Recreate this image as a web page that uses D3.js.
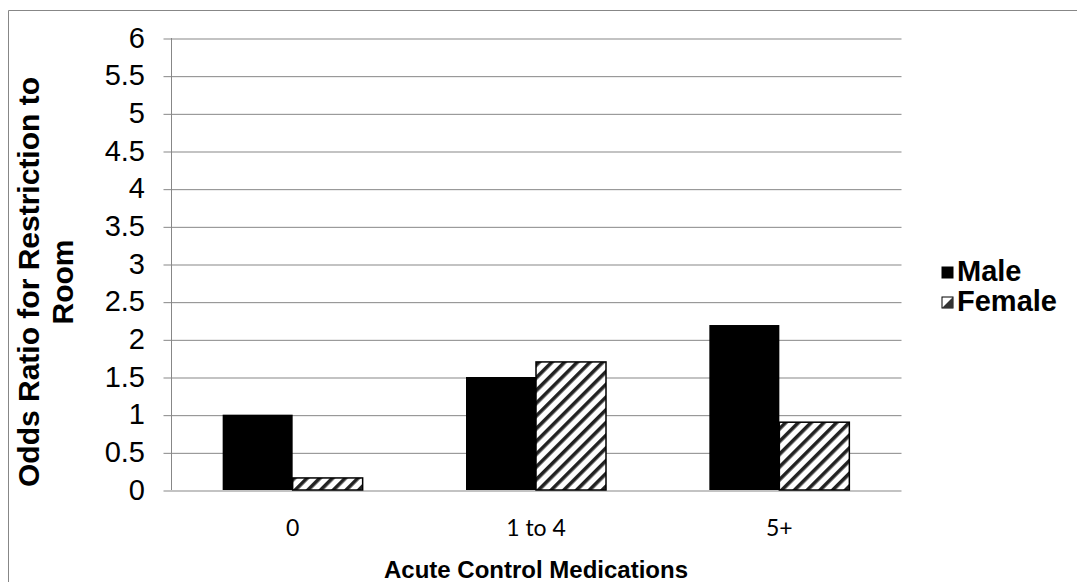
<!DOCTYPE html>
<html>
<head>
<meta charset="utf-8">
<script src="https://d3js.org/d3.v7.min.js"></script>
<style>
  body { margin: 0; background: white; }
  text { font-family: "Liberation Sans", Arial, sans-serif; fill: black; }
</style>
</head>
<body>
<svg width="1077" height="582"></svg>
<script>
// chart values
var categories = ["0", "1 to 4", "5+"];
var seriesNames = ["Male", "Female"];
var maleValues = [1.0, 1.5, 2.19];
var femaleValues = [0.16, 1.7, 0.9];
var yTicks = [0, 0.5, 1, 1.5, 2, 2.5, 3, 3.5, 4, 4.5, 5, 5.5, 6];

var svg = d3.select("svg");
var gridColor = "#878787";

// hatch pattern for the female bars
var defs = svg.append("defs");
defs.append("pattern")
    .attr("id", "hatch")
    .attr("patternUnits", "userSpaceOnUse")
    .attr("width", 9)
    .attr("height", 9)
    .attr("patternTransform", "rotate(45)")
    .call(function(p) {
        p.append("rect").attr("width", 9).attr("height", 9).attr("fill", "white");
        p.append("rect").attr("width", 3.6).attr("height", 9).attr("fill", "#222");
    });

// outer frame (only top and left edges are inside the picture)
svg.append("path")
    .attr("d", "M8.5,582 L8.5,10.5 L1077,10.5")
    .attr("fill", "none")
    .attr("stroke", gridColor)
    .attr("stroke-width", 1);

//Set the scales
var xs = d3.scaleBand().domain(categories).range([171, 901])
    .paddingInner(0.4247).paddingOuter(0.2123);
var xsub = d3.scaleBand().domain(seriesNames).range([0, xs.bandwidth()]);
var ys = d3.scaleLinear().domain([0, 6]).range([490, 38]);

//Gridlines and the y axis with its ticks
var yAxis = svg.append("g")
    .attr("transform", "translate(171,0)")
    .call(d3.axisLeft(ys)
        .tickValues(yTicks)
        .tickSize(8)
        .tickPadding(18)
        .tickFormat(d3.format("~g")));
yAxis.select(".domain").attr("stroke", gridColor).attr("d", "M0.5," + ys(6) + "V" + ys(0));
yAxis.selectAll(".tick line").attr("stroke", gridColor).attr("x1", 730).attr("x2", -8)
    .attr("transform", "translate(0.5,0.5)");
yAxis.selectAll(".tick text")
    .style("font-size", "29px")
    .style("font-family", "'Liberation Sans', Arial, sans-serif")
    .attr("fill", "black");

//Category labels under the bars
var xAxis = svg.append("g")
    .attr("transform", "translate(0,490)")
    .call(d3.axisBottom(xs).tickSize(0).tickPadding(30));
xAxis.select(".domain").remove();
xAxis.selectAll(".tick text")
    .style("font-size", "23px")
    .style("font-family", "Lato, 'Open Sans', sans-serif")
    .attr("fill", "black");

//Bars
var rows = categories.map(function(c, i) {
    return { cat: c, values: [maleValues[i], femaleValues[i]] };
});
var groups = svg.append("g").selectAll("g")
    .data(rows)
    .enter()
    .append("g")
    .attr("transform", function(d) { return "translate(" + xs(d.cat) + ",0)"; });

groups.selectAll("rect")
    .data(function(d) { return d.values.map(function(v, j) { return { name: seriesNames[j], value: v }; }); })
    .enter()
    .append("rect")
    .attr("x", function(d) { return xsub(d.name); })
    .attr("y", function(d) { return ys(d.value); })
    .attr("width", xsub.bandwidth())
    .attr("height", function(d) { return ys(0) - ys(d.value); })
    .attr("fill", function(d) { return d.name === "Male" ? "black" : "url(#hatch)"; })
    .attr("stroke", "black")
    .attr("stroke-width", function(d) { return d.name === "Male" ? 0 : 1.5; });

//Axis titles
svg.append("text")
    .attr("x", 536)
    .attr("y", 578)
    .attr("text-anchor", "middle")
    .style("font-size", "24px")
    .style("font-weight", "bold")
    .text("Acute Control Medications");

var yTitle = svg.append("text")
    .attr("transform", "translate(0,282) rotate(-90)")
    .attr("text-anchor", "middle")
    .style("font-size", "30px")
    .style("font-weight", "bold");
yTitle.append("tspan").attr("x", 0).attr("y", 39).text("Odds Ratio for Restriction to");
yTitle.append("tspan").attr("x", 0).attr("y", 73).text("Room");

//Legend
var legend = svg.append("g").selectAll("g")
    .data(seriesNames)
    .enter()
    .append("g")
    .attr("transform", function(d, i) { return "translate(942," + (267 + i * 30) + ")"; });

legend.append("rect")
    .attr("width", 11)
    .attr("height", 11)
    .attr("fill", function(d) { return d === "Male" ? "black" : "white"; })
    .attr("stroke", "black")
    .attr("stroke-width", 1);
legend.filter(function(d) { return d === "Female"; })
    .append("path")
    .attr("d", "M11,0 L11,11 L0,11 Z")
    .attr("fill", "#333");

legend.append("text")
    .attr("x", 15)
    .attr("y", 14)
    .style("font-size", "29px")
    .style("font-weight", "bold")
    .text(function(d) { return d; });
</script>
</body>
</html>
